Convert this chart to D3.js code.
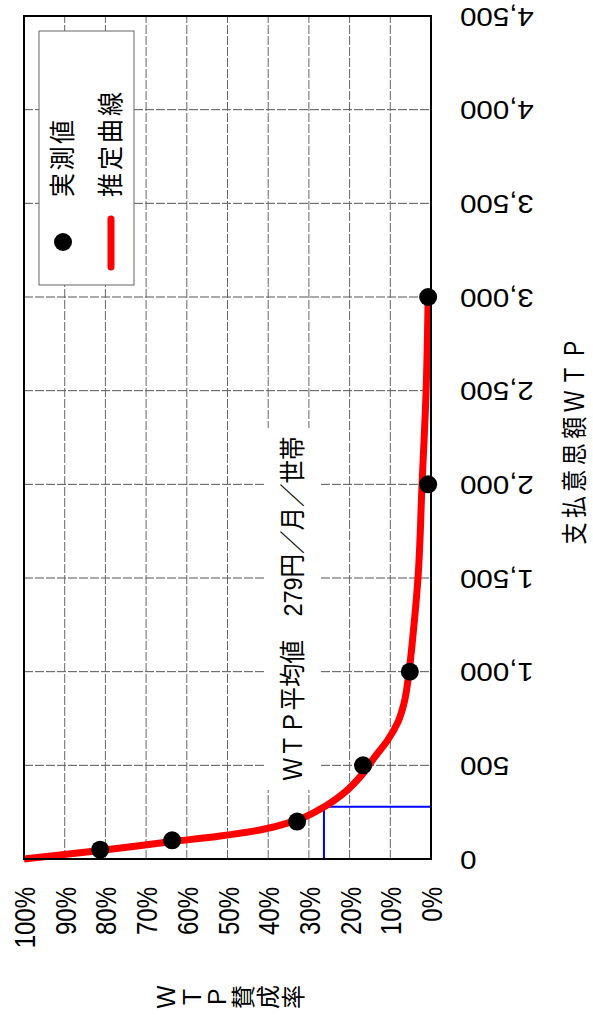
<!DOCTYPE html>
<meta charset="utf-8">
<script src="https://d3js.org/d3.v7.min.js"></script>
<style>
  body { margin: 0; background: #fff; }
  text { font-family: "Liberation Sans", Arial, "Noto Sans CJK JP", sans-serif; fill: #000; }
</style>
<div id="chart"></div>
<script>
// data (amount in yen, rate in %)
const amountTicks = [0, 500, 1000, 1500, 2000, 2500, 3000, 3500, 4000, 4500];
const rateTicks = [0, 10, 20, 30, 40, 50, 60, 70, 80, 90, 100];
const obsAmount = [50, 100, 200, 500, 1000, 2000, 3000];
const obsRate = [81.3, 63.6, 32.9, 16.7, 5.2, 0.7, 0.7];
const fitAmount = [0, 45, 93, 123, 155, 203, 278, 358, 449, 545, 636, 732, 834, 1000, 1200, 1500, 2000, 2500, 3000];
const fitRate = [100, 81.3, 63.6, 51.8, 42, 33.5, 26.3, 21.1, 17, 13.8, 10.6, 8.1, 6.6, 5.4, 4.4, 3.2, 2.2, 1.2, 0.7];
const meanWTP = 279;
const meanRate = 26.3;
const titleChars = ["Ｗ", "Ｔ", "Ｐ", "賛", "成", "率"];

const W = 593, H = 1019;
const svg = d3.select("#chart").append("svg")
    .attr("width", W).attr("height", H);

// chart is drawn turned on its side: amount goes up, rate goes left
const y = d3.scaleLinear().domain([0, 4500]).range([859, 16]);
const x = d3.scaleLinear().domain([0, 100]).range([431, 24]);

// grid
svg.append("g").selectAll("line").data(amountTicks.slice(1, -1)).join("line")
    .attr("x1", x(100)).attr("x2", x(0))
    .attr("y1", d => y(d)).attr("y2", d => y(d))
    .attr("stroke", "#555").attr("stroke-dasharray", "9,2");
svg.append("g").selectAll("line").data(rateTicks.slice(1, -1)).join("line")
    .attr("y1", y(0)).attr("y2", y(4500))
    .attr("x1", d => x(d)).attr("x2", d => x(d))
    .attr("stroke", "#666").attr("stroke-dasharray", "9,2");

// annotation with white box
svg.append("rect")
    .attr("x", 265).attr("y", 428).attr("width", 55).attr("height", 362)
    .attr("fill", "#fff");
svg.append("text")
    .attr("transform", "translate(293,781) scale(1.1,1) rotate(-90)")
    .attr("dy", "0.35em")
    .attr("font-size", 23.5)
    .text("ＷＴＰ平均値　279円／月／世帯");

// mean WTP guide
svg.append("path")
    .attr("d", `M${x(meanRate)},${y(0)}V${y(meanWTP)}H${x(0)}`)
    .attr("fill", "none").attr("stroke", "#0000ff").attr("stroke-width", 2);

// fitted curve
const fit = fitAmount.map((a, i) => ({ a: a, r: fitRate[i] }));
svg.append("path")
    .datum(fit)
    .attr("d", d3.line().x(d => x(d.r)).y(d => y(d.a)).curve(d3.curveMonotoneY))
    .attr("fill", "none").attr("stroke", "#ff0000").attr("stroke-width", 7);

// observed points
svg.append("g").selectAll("circle").data(obsAmount).join("circle")
    .attr("cx", (d, i) => x(obsRate[i]))
    .attr("cy", d => y(d))
    .attr("r", 9)
    .attr("fill", "#000");

// frame
svg.append("rect")
    .attr("x", x(100)).attr("y", y(4500))
    .attr("width", x(0) - x(100)).attr("height", y(0) - y(4500))
    .attr("fill", "none").attr("stroke", "#000").attr("stroke-width", 2);

// amount axis (labels upside down)
const ax = svg.append("g")
    .attr("transform", `translate(${x(0)},0)`)
    .call(d3.axisRight(y).tickValues(amountTicks).tickFormat(d3.format(",")).tickSize(0));
ax.select(".domain").remove();
ax.selectAll("text")
    .attr("x", null).attr("dy", "0.35em")
    .attr("text-anchor", "end")
    .attr("font-size", 25)
    .attr("transform", "translate(29,0) scale(1.18,1) rotate(180)");

// rate axis
const rx = svg.append("g")
    .attr("transform", `translate(0,${y(0)})`)
    .call(d3.axisBottom(x).tickValues(rateTicks).tickFormat(d => d + "%").tickSize(0));
rx.select(".domain").remove();
rx.selectAll("text")
    .attr("y", null).attr("dy", "0.35em")
    .attr("text-anchor", "end")
    .attr("font-size", 24)
    .attr("transform", "translate(0,28) scale(1.25,1) rotate(-90)");

// axis titles
svg.append("text")
    .attr("transform", "translate(575,441) scale(1.2,1) rotate(-90)")
    .attr("dy", "0.35em")
    .attr("text-anchor", "middle")
    .attr("font-size", 22)
    .attr("textLength", 207).attr("lengthAdjust", "spacing")
    .text("支払意思額ＷＴＰ");

const cx = d3.scalePoint().domain(d3.range(titleChars.length)).range([167, 294]);
svg.append("g").selectAll("text").data(titleChars).join("text")
    .attr("transform", (d, i) => `translate(${cx(i)},997) rotate(-90)`)
    .attr("dy", "0.35em")
    .attr("text-anchor", "middle")
    .attr("font-size", 24)
    .text(d => d);

// legend
svg.append("rect")
    .attr("x", 39).attr("y", 31).attr("width", 95).attr("height", 254)
    .attr("fill", "#fff").attr("stroke", "#666").attr("stroke-width", 1);
svg.append("circle").attr("cx", 63).attr("cy", 242).attr("r", 9).attr("fill", "#000");
svg.append("line")
    .attr("x1", 111).attr("x2", 111).attr("y1", 219).attr("y2", 267)
    .attr("stroke", "#ff0000").attr("stroke-width", 7).attr("stroke-linecap", "round");
svg.append("text")
    .attr("transform", "translate(63,197) scale(1.1,1) rotate(-90)")
    .attr("dy", "0.35em").attr("font-size", 24)
    .attr("textLength", 77).attr("lengthAdjust", "spacing")
    .text("実測値");
svg.append("text")
    .attr("transform", "translate(111,197) scale(1.1,1) rotate(-90)")
    .attr("dy", "0.35em").attr("font-size", 24)
    .attr("textLength", 105).attr("lengthAdjust", "spacing")
    .text("推定曲線");
</script>
